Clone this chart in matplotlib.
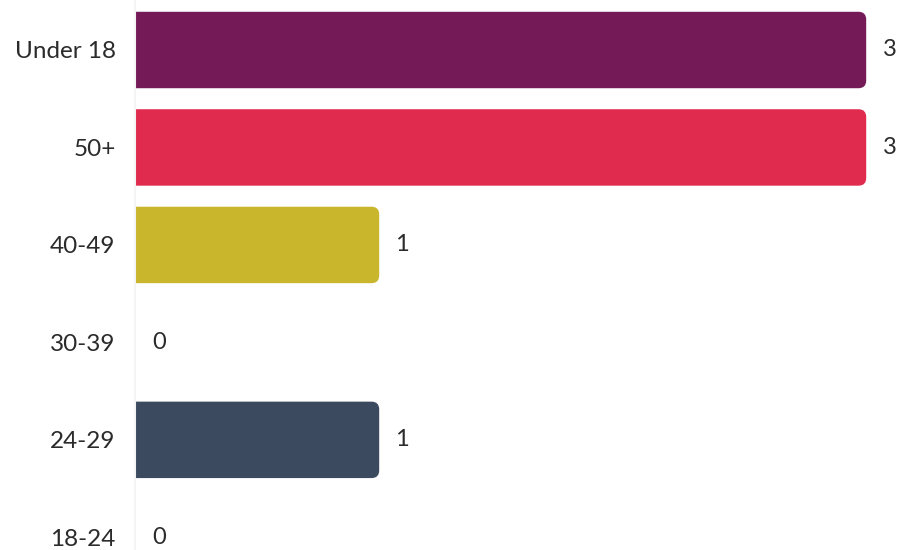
import matplotlib
matplotlib.use("Agg")
import matplotlib.pyplot as plt
from matplotlib.patches import FancyBboxPatch

categories = ["Under 18", "50+", "40-49", "30-39", "24-29", "18-24"]
counts = [3, 3, 1, 0, 1, 0]
colors = ["#741b57", "#e02b4e", "#c9b62c", "#c9b62c", "#3c4a5f", "#3c4a5f"]

plt.rcParams["font.family"] = ["Lato", "DejaVu Sans"]

fig = plt.figure(figsize=(9.05, 5.5), dpi=100)
ax = fig.add_axes([135 / 905, 0, 770 / 905, 1])
ax.set_xlim(0, 770 / 243.5)
ax.set_ylim(5.13, -0.513)

bar_h = 0.77
# plain bars give the layout; rounded patches give the look
bars = ax.barh(range(len(categories)), counts, height=bar_h, color="none")
fig.canvas.draw()
px_per_x = ax.transData.transform((1, 0))[0] - ax.transData.transform((0, 0))[0]
px_per_y = abs(ax.transData.transform((0, 1))[1] - ax.transData.transform((0, 0))[1])
radius_px = 7
for bar, c in zip(bars, colors):
    w = bar.get_width()
    if w <= 0:
        continue
    y0 = bar.get_y()
    r = radius_px / px_per_x
    patch = FancyBboxPatch((-0.2, y0), w + 0.2, bar.get_height(),
                           boxstyle=f"round,pad=0,rounding_size={r}",
                           mutation_aspect=px_per_x / px_per_y,
                           facecolor=c, edgecolor=c, linewidth=1)
    ax.add_patch(patch)

for i, v in enumerate(counts):
    ax.text(v + 17 / px_per_x, i, f"{v}", va="center", ha="left",
            fontsize=17, color="#2b2b2b")

ax.set_yticks(range(len(categories)))
ax.set_yticklabels(categories, fontsize=17.5, color="#2b2b2b")
ax.tick_params(axis="y", length=0, pad=14)
ax.set_xticks([])
for s in ["top", "right", "bottom"]:
    ax.spines[s].set_visible(False)
ax.spines["left"].set_color("#f4f4f4")
ax.spines["left"].set_linewidth(1.5)

fig.savefig("out.png", dpi=100, facecolor="white")
